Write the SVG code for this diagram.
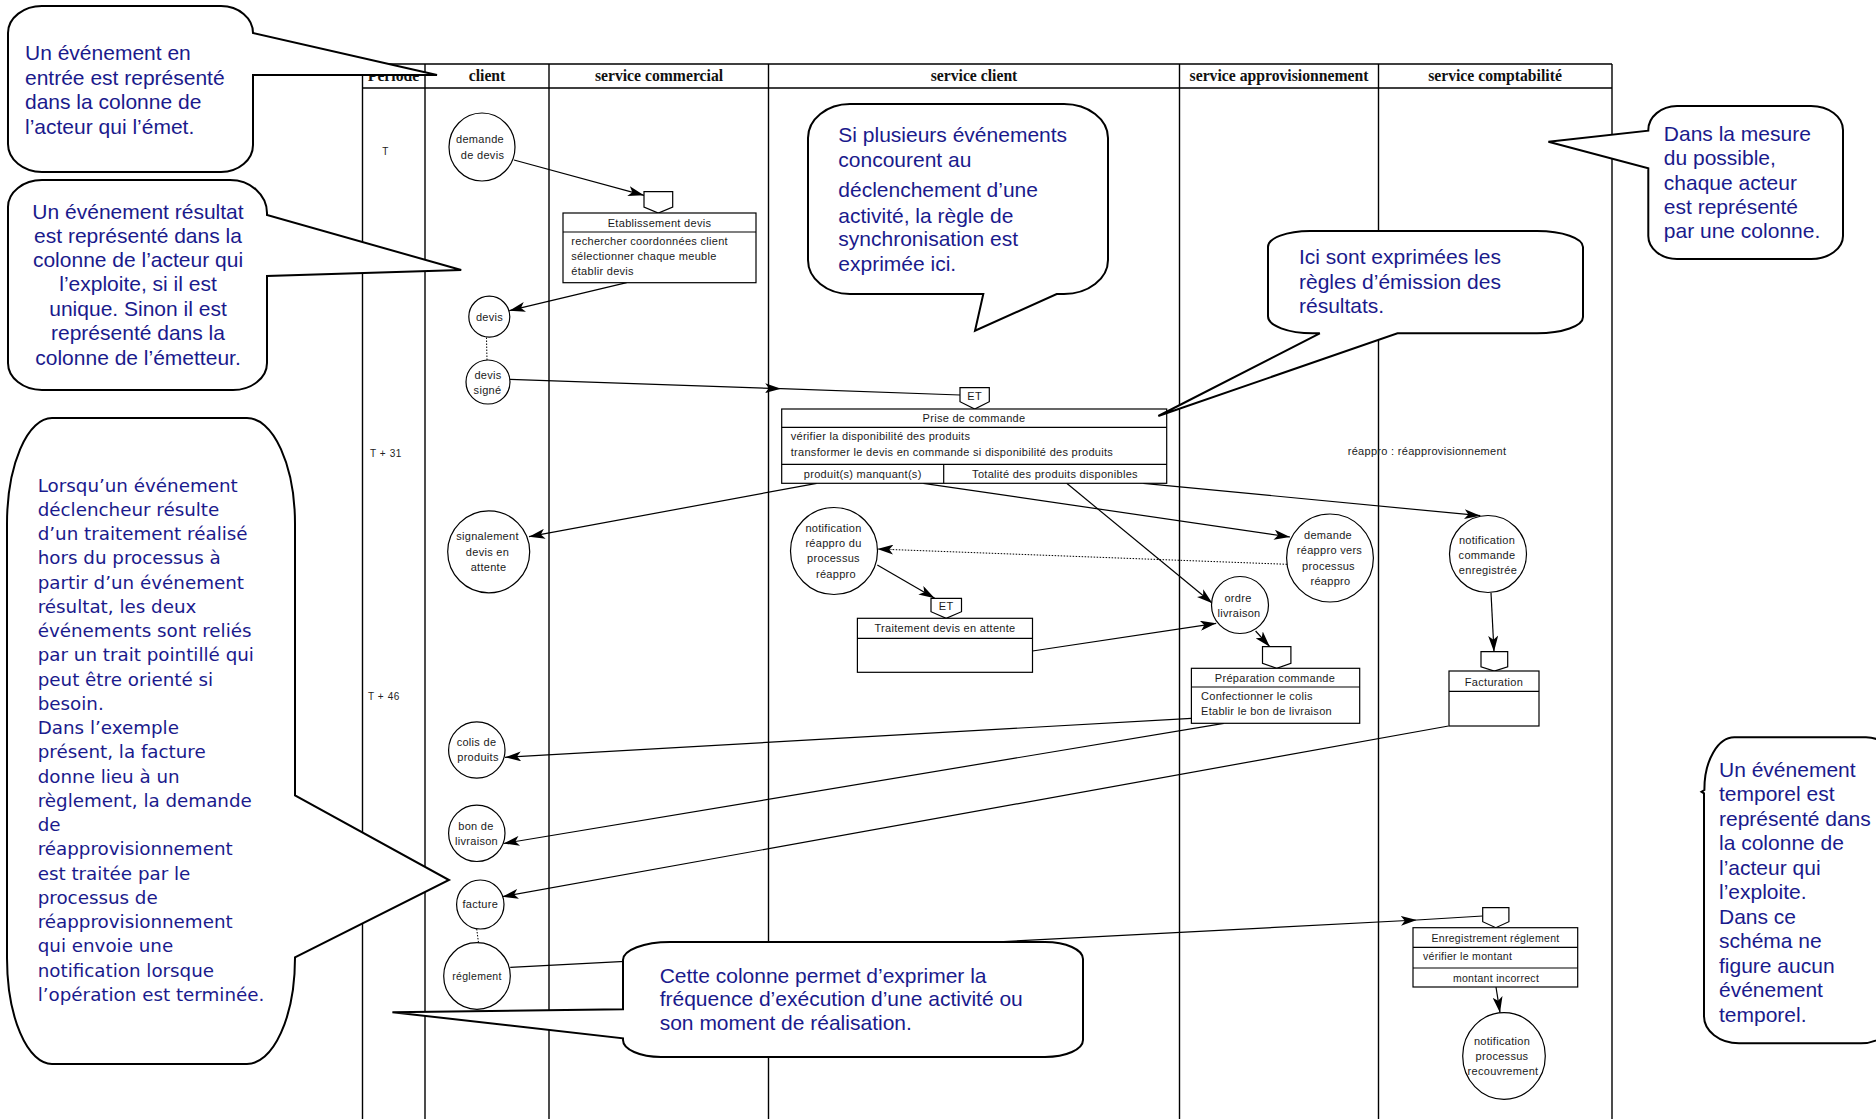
<svg xmlns="http://www.w3.org/2000/svg" width="1876" height="1119" viewBox="0 0 1876 1119">
<defs>
<style>
.ln{stroke:#000;stroke-width:1.4;fill:none}
.hd{font-family:"Liberation Serif","Times New Roman",serif;font-weight:bold;font-size:15.7px;fill:#111;text-anchor:middle}
.sm{font-family:"Liberation Sans",Arial,sans-serif;font-size:11px;letter-spacing:0.3px;fill:#1a1a1a}
.pe{font-family:"Liberation Sans",Arial,sans-serif;font-size:10px;letter-spacing:0.6px;fill:#222;text-anchor:middle}
.c{text-anchor:middle}
.ev{fill:#fff;stroke:#000;stroke-width:1.2}
.bx{fill:#fff;stroke:#000;stroke-width:1.2}
.tr{fill:#fff;stroke:#000;stroke-width:1.2}
.cn{stroke:#000;stroke-width:1.2;fill:none}
.ar{marker-end:url(#ah)}
.dt{stroke:#000;stroke-width:1;stroke-dasharray:1.5 1.5;fill:none}
.co{fill:#fff;stroke:#000;stroke-width:2;stroke-linejoin:miter}
.ct{font-family:"Liberation Sans",Arial,sans-serif;font-size:21px;fill:#1a1a8c}
.cv{font-family:"DejaVu Sans",Verdana,sans-serif;font-size:18.3px;fill:#1a1a8c}
</style>
<marker id="ah" markerUnits="userSpaceOnUse" markerWidth="16" markerHeight="10" refX="16" refY="5" orient="auto"><path d="M0,0 L16,5 L0,10 L4,5 Z" fill="#000"/></marker>
</defs>
<rect width="1876" height="1119" fill="#fff"/>

<g id="table">
<path class="ln" d="M362.5,64 H1612 M362.5,88 H1612 M362.5,64 V1119 M425,64 V1119 M549,64 V1119 M768.5,64 V1119 M1179.5,64 V1119 M1378.5,64 V1119 M1612,64 V1119"/>
<text class="hd" x="393.5" y="81">Période</text>
<text class="hd" x="487" y="81">client</text>
<text class="hd" x="659" y="81">service commercial</text>
<text class="hd" x="974" y="81">service client</text>
<text class="hd" x="1279" y="81">service approvisionnement</text>
<text class="hd" x="1495" y="81">service comptabilité</text>
<text class="pe" x="385.5" y="155">T</text>
<text class="pe" x="386" y="457">T + 31</text>
<text class="pe" x="384" y="700">T + 46</text>
<text class="sm c" x="1427" y="455">réappro : réapprovisionnement</text>
</g>

<g id="connectors">
<path class="cn ar" d="M514,160 L644,195.3"/>
<path class="cn ar" d="M626.7,282.7 L509.3,310.7"/>
<path class="cn ar" d="M510,379.3 L781,388.7"/>
<path class="cn" d="M781,388.7 L960,395"/>
<path class="cn ar" d="M816.7,483.3 L529,536.7"/>
<path class="cn ar" d="M923.3,483.3 L1290,537"/>
<path class="cn ar" d="M1066.7,483.3 L1212.4,603.3"/>
<path class="cn ar" d="M1143.3,483.3 L1480.3,515.7"/>
<path class="dt" d="M1287,564.3 L893,549.6"/>
<path class="cn ar" d="M893,549.6 L877.3,549" style="stroke-width:0.5"/>
<path class="cn ar" d="M877.3,565 L934.7,598.3"/>
<path class="cn ar" d="M1032.5,651 L1216.2,623.3"/>
<path class="cn ar" d="M1255.6,631 L1269.8,646.7"/>
<path class="cn ar" d="M1491,592.7 L1494,651.7"/>
<path class="cn ar" d="M1191.4,718.3 L505,757.3"/>
<path class="cn ar" d="M1223.9,723.3 L503.5,843.5"/>
<path class="cn ar" d="M1448.5,726 L502.3,896.7"/>
<path class="cn ar" d="M510.2,967.3 L1416.8,920"/>
<path class="cn" d="M1416.8,920 L1482.7,916"/>
<path class="cn ar" d="M1496,987 L1500,1012.7"/>
<path class="dt" d="M486.5,337.5 L487,360.5"/>
<path class="dt" d="M476.7,929 L478.5,942.7"/>
</g>

<g id="ev-demande-devis"><ellipse class="ev" cx="482" cy="147" rx="33" ry="34"/><text class="sm c" x="480" y="143">demande</text><text class="sm c" x="482.5" y="159">de devis</text></g>
<g id="ev-devis"><circle class="ev" cx="489.3" cy="316.7" r="20.5"/><text class="sm c" x="489.5" y="321">devis</text></g>
<g id="ev-devis-signe"><circle class="ev" cx="488" cy="382" r="22"/><text class="sm c" x="488" y="379">devis</text><text class="sm c" x="487.5" y="394">signé</text></g>
<g id="ev-signalement"><circle class="ev" cx="488.7" cy="551.8" r="41"/><text class="sm c" x="487.5" y="540">signalement</text><text class="sm c" x="487.5" y="555.5">devis en</text><text class="sm c" x="488.5" y="570.5">attente</text></g>
<g id="ev-colis"><circle class="ev" cx="476.8" cy="750" r="28.2"/><text class="sm c" x="476.5" y="746">colis de</text><text class="sm c" x="478" y="761">produits</text></g>
<g id="ev-bon"><circle class="ev" cx="476.8" cy="833.3" r="28.2"/><text class="sm c" x="476" y="830">bon de</text><text class="sm c" x="476.5" y="845">livraison</text></g>
<g id="ev-facture"><ellipse class="ev" cx="480.3" cy="904.5" rx="23.7" ry="24.5"/><text class="sm c" x="480.3" y="908">facture</text></g>
<g id="ev-reglement"><circle class="ev" cx="477" cy="976" r="33.3"/><text class="sm c" x="477" y="980" style="font-size:10.5px">réglement</text></g>
<g id="ev-notif-reappro"><circle class="ev" cx="834" cy="551" r="43.5"/><text class="sm c" x="833.5" y="532">notification</text><text class="sm c" x="833.5" y="547">réappro du</text><text class="sm c" x="833.5" y="562">processus</text><text class="sm c" x="836" y="578">réappro</text></g>
<g id="ev-demande-reappro"><ellipse class="ev" cx="1330" cy="558" rx="43.4" ry="44"/><text class="sm c" x="1328" y="539">demande</text><text class="sm c" x="1329.5" y="554">réappro vers</text><text class="sm c" x="1328.5" y="569.5">processus</text><text class="sm c" x="1330.5" y="585">réappro</text></g>
<g id="ev-ordre"><circle class="ev" cx="1240" cy="605" r="28.5"/><text class="sm c" x="1238" y="601.5">ordre</text><text class="sm c" x="1239" y="616.5">livraison</text></g>
<g id="ev-notif-commande"><circle class="ev" cx="1488" cy="554" r="38.5"/><text class="sm c" x="1487" y="544">notification</text><text class="sm c" x="1487" y="559">commande</text><text class="sm c" x="1488" y="574">enregistrée</text></g>
<g id="ev-notif-recouvrement"><ellipse class="ev" cx="1504" cy="1056" rx="41.3" ry="43.3"/><text class="sm c" x="1502" y="1045">notification</text><text class="sm c" x="1502" y="1060">processus</text><text class="sm c" x="1503" y="1075">recouvrement</text></g>

<g id="act-etablissement">
<polygon class="tr" points="644,191.7 672.7,191.7 672.7,207 658.3,213 644,207"/>
<rect class="bx" x="563" y="213" width="193" height="69.7"/>
<path class="cn" d="M563,232 H756"/>
<text class="sm c" x="659.5" y="226.5">Etablissement devis</text>
<text class="sm" x="571.3" y="245">rechercher coordonnées client</text>
<text class="sm" x="571.3" y="260">sélectionner chaque meuble</text>
<text class="sm" x="571.3" y="275">établir devis</text>
</g>

<g id="act-prise">
<polygon class="tr" points="960,387.7 989.3,387.7 989.3,401.7 974.7,409 960,401.7"/>
<text class="sm c" x="974.7" y="400">ET</text>
<rect class="bx" x="781.7" y="409" width="385" height="74.3"/>
<path class="cn" d="M781.7,427.3 H1166.7 M781.7,464.3 H1166.7 M943.7,464.3 V483.3"/>
<text class="sm c" x="974" y="422">Prise de commande</text>
<text class="sm" x="790.7" y="440">vérifier la disponibilité des produits</text>
<text class="sm" x="790.7" y="456">transformer le devis en commande si disponibilité des produits</text>
<text class="sm c" x="862.7" y="477.5">produit(s) manquant(s)</text>
<text class="sm c" x="1055" y="477.5">Totalité des produits disponibles</text>
</g>

<g id="act-traitement">
<polygon class="tr" points="931,598.3 961.5,598.3 961.5,611.7 946.2,618.3 931,611.7"/>
<text class="sm c" x="946.2" y="609.5">ET</text>
<rect class="bx" x="857.4" y="618.3" width="175.1" height="54"/>
<path class="cn" d="M857.4,638.3 H1032.5"/>
<text class="sm c" x="945" y="632">Traitement devis en attente</text>
</g>

<g id="act-preparation">
<polygon class="tr" points="1262.5,646.7 1290.9,646.7 1290.9,663.3 1276.7,668.3 1262.5,663.3"/>
<rect class="bx" x="1191.4" y="668.3" width="168.3" height="55"/>
<path class="cn" d="M1191.4,687 H1359.7"/>
<text class="sm c" x="1275" y="681.5">Préparation commande</text>
<text class="sm" x="1201" y="700">Confectionner le colis</text>
<text class="sm" x="1201" y="715">Etablir le bon de livraison</text>
</g>

<g id="act-facturation">
<polygon class="tr" points="1481,651.7 1507.7,651.7 1507.7,666.7 1494.3,671 1481,666.7"/>
<rect class="bx" x="1449" y="671" width="90" height="55"/>
<path class="cn" d="M1449,691.3 H1539"/>
<text class="sm c" x="1494" y="686">Facturation</text>
</g>

<g id="act-enregistrement">
<polygon class="tr" points="1482.7,907.7 1508.9,907.7 1508.9,921.7 1495.8,927.7 1482.7,921.7"/>
<rect class="bx" x="1413" y="927.7" width="164.7" height="59.3"/>
<path class="cn" d="M1413,947.3 H1577.7 M1413,968 H1577.7"/>
<text class="sm c" x="1495.5" y="942" style="font-size:10.5px">Enregistrement réglement</text>
<text class="sm" x="1423" y="960" style="font-size:10.5px">vérifier le montant</text>
<text class="sm c" x="1496" y="981.5" style="font-size:10.5px">montant incorrect</text>
</g>

<g id="callout-entree">
<path class="co" d="M43,6 H221 A32 27 0 0 1 253,33 L437,75 L253,75 V145 A32 27 0 0 1 221,172 H42 A34 28 0 0 1 8,144 V33 A34 27 0 0 1 43,6 Z"/>
<text class="ct" x="25" y="60">Un événement en</text>
<text class="ct" x="25" y="85">entrée est représenté</text>
<text class="ct" x="25" y="109.3">dans la colonne de</text>
<text class="ct" x="25" y="133.5">l’acteur qui l’émet.</text>
</g>

<g id="callout-resultat">
<path class="co" d="M42,180 H230 A37 33 0 0 1 267,213 V215 L461.2,270 L267,276 V363 A34 27 0 0 1 233,390 H42 A34 27 0 0 1 8,363 V207 A34 27 0 0 1 42,180 Z"/>
<g class="ct" text-anchor="middle">
<text x="138" y="218.5">Un événement résultat</text>
<text x="138" y="242.5">est représenté dans la</text>
<text x="138" y="267">colonne de l’acteur qui</text>
<text x="138" y="291">l’exploite, si il est</text>
<text x="138" y="316">unique. Sinon il est</text>
<text x="138" y="340">représenté dans la</text>
<text x="138" y="365">colonne de l’émetteur.</text>
</g>
</g>

<g id="callout-pointille">
<path class="co" d="M52,418 H247 A48 106 0 0 1 295,524 V795.4 L449,880 L295,957.3 V958 A48 106 0 0 1 247,1064 H52 A45 106 0 0 1 7,958 V524 A45 106 0 0 1 52,418 Z"/>
<g class="cv">
<text x="37.7" y="491.7">Lorsqu’un événement</text>
<text x="37.7" y="515.95">déclencheur résulte</text>
<text x="37.7" y="540.2">d’un traitement réalisé</text>
<text x="37.7" y="564.45">hors du processus à</text>
<text x="37.7" y="588.7">partir d’un événement</text>
<text x="37.7" y="612.95">résultat, les deux</text>
<text x="37.7" y="637.2">événements sont reliés</text>
<text x="37.7" y="661.45">par un trait pointillé qui</text>
<text x="37.7" y="685.7">peut être orienté si</text>
<text x="37.7" y="709.95">besoin.</text>
<text x="37.7" y="734.2">Dans l’exemple</text>
<text x="37.7" y="758.45">présent, la facture</text>
<text x="37.7" y="782.7">donne lieu à un</text>
<text x="37.7" y="806.95">règlement, la demande</text>
<text x="37.7" y="831.2">de</text>
<text x="37.7" y="855.45">réapprovisionnement</text>
<text x="37.7" y="879.7">est traitée par le</text>
<text x="37.7" y="903.95">processus de</text>
<text x="37.7" y="928.2">réapprovisionnement</text>
<text x="37.7" y="952.45">qui envoie une</text>
<text x="37.7" y="976.7">notification lorsque</text>
<text x="37.7" y="1000.95">l’opération est terminée.</text>
</g>
</g>

<g id="callout-synchro">
<path class="co" d="M850,104 H1064 A44 34 0 0 1 1108,138 V260 A44 34 0 0 1 1064,294 H1056.7 L975,330.7 L983.3,294 H850 A42 34 0 0 1 808,260 V138 A42 34 0 0 1 850,104 Z"/>
<g class="ct">
<text x="838.3" y="142.3">Si plusieurs événements</text>
<text x="838.3" y="166.7">concourent au</text>
<text x="838.3" y="196.7">déclenchement d’une</text>
<text x="838.3" y="222.7">activité, la règle de</text>
<text x="838.3" y="245.7">synchronisation est</text>
<text x="838.3" y="271">exprimée ici.</text>
</g>
</g>

<g id="callout-emission">
<path class="co" d="M1310,231 H1537 A46 16 0 0 1 1583,247 V317 A46 16.3 0 0 1 1537,333.3 H1397.5 L1158.3,416 L1319.8,333.3 H1313 A45 17 0 0 1 1268,316.3 V247 A42 16 0 0 1 1310,231 Z"/>
<g class="ct">
<text x="1299" y="264.3">Ici sont exprimées les</text>
<text x="1299" y="289.3">règles d’émission des</text>
<text x="1299" y="313.3">résultats.</text>
</g>
</g>

<g id="callout-acteur">
<path class="co" d="M1677,106 H1811 A32 24 0 0 1 1843,130 V236 A32 23 0 0 1 1811,259 H1677 A29 23 0 0 1 1648.3,236 V168.3 L1548.4,141.7 L1648.3,130.7 V130 A29 24 0 0 1 1677,106 Z"/>
<g class="ct">
<text x="1663.8" y="140.5">Dans la mesure</text>
<text x="1663.8" y="165">du possible,</text>
<text x="1663.8" y="189.5">chaque acteur</text>
<text x="1663.8" y="213.8">est représenté</text>
<text x="1663.8" y="238.3">par une colonne.</text>
</g>
</g>

<g id="callout-periode">
<path class="co" d="M670,942 H1045 A38 17 0 0 1 1083,959 V1040 A38 17 0 0 1 1045,1057 H661 A38 17 0 0 1 623,1040 V1038.3 L392.4,1012.2 L623,1009.3 V960 A47 18 0 0 1 670,942 Z"/>
<g class="ct">
<text x="659.7" y="983">Cette colonne permet d’exprimer la</text>
<text x="659.7" y="1006">fréquence d’exécution d’une activité ou</text>
<text x="659.7" y="1030">son moment de réalisation.</text>
</g>
</g>

<g id="callout-temporel">
<path class="co" d="M1735,737.3 H1866 A30 30 0 0 1 1896,767 V1013 A35 30 0 0 1 1861,1043.3 H1739 A35 27 0 0 1 1704,1016 V793.3 L1701.5,791.7 L1704.4,790 A30 52 0 0 1 1735,737.3 Z"/>
<g class="ct">
<text x="1719" y="776.5">Un événement</text>
<text x="1719" y="801">temporel est</text>
<text x="1719" y="825.5">représenté dans</text>
<text x="1719" y="850">la colonne de</text>
<text x="1719" y="874.5">l’acteur qui</text>
<text x="1719" y="899">l’exploite.</text>
<text x="1719" y="923.5">Dans ce</text>
<text x="1719" y="948">schéma ne</text>
<text x="1719" y="972.5">figure aucun</text>
<text x="1719" y="997">événement</text>
<text x="1719" y="1021.5">temporel.</text>
</g>
</g>
</svg>
